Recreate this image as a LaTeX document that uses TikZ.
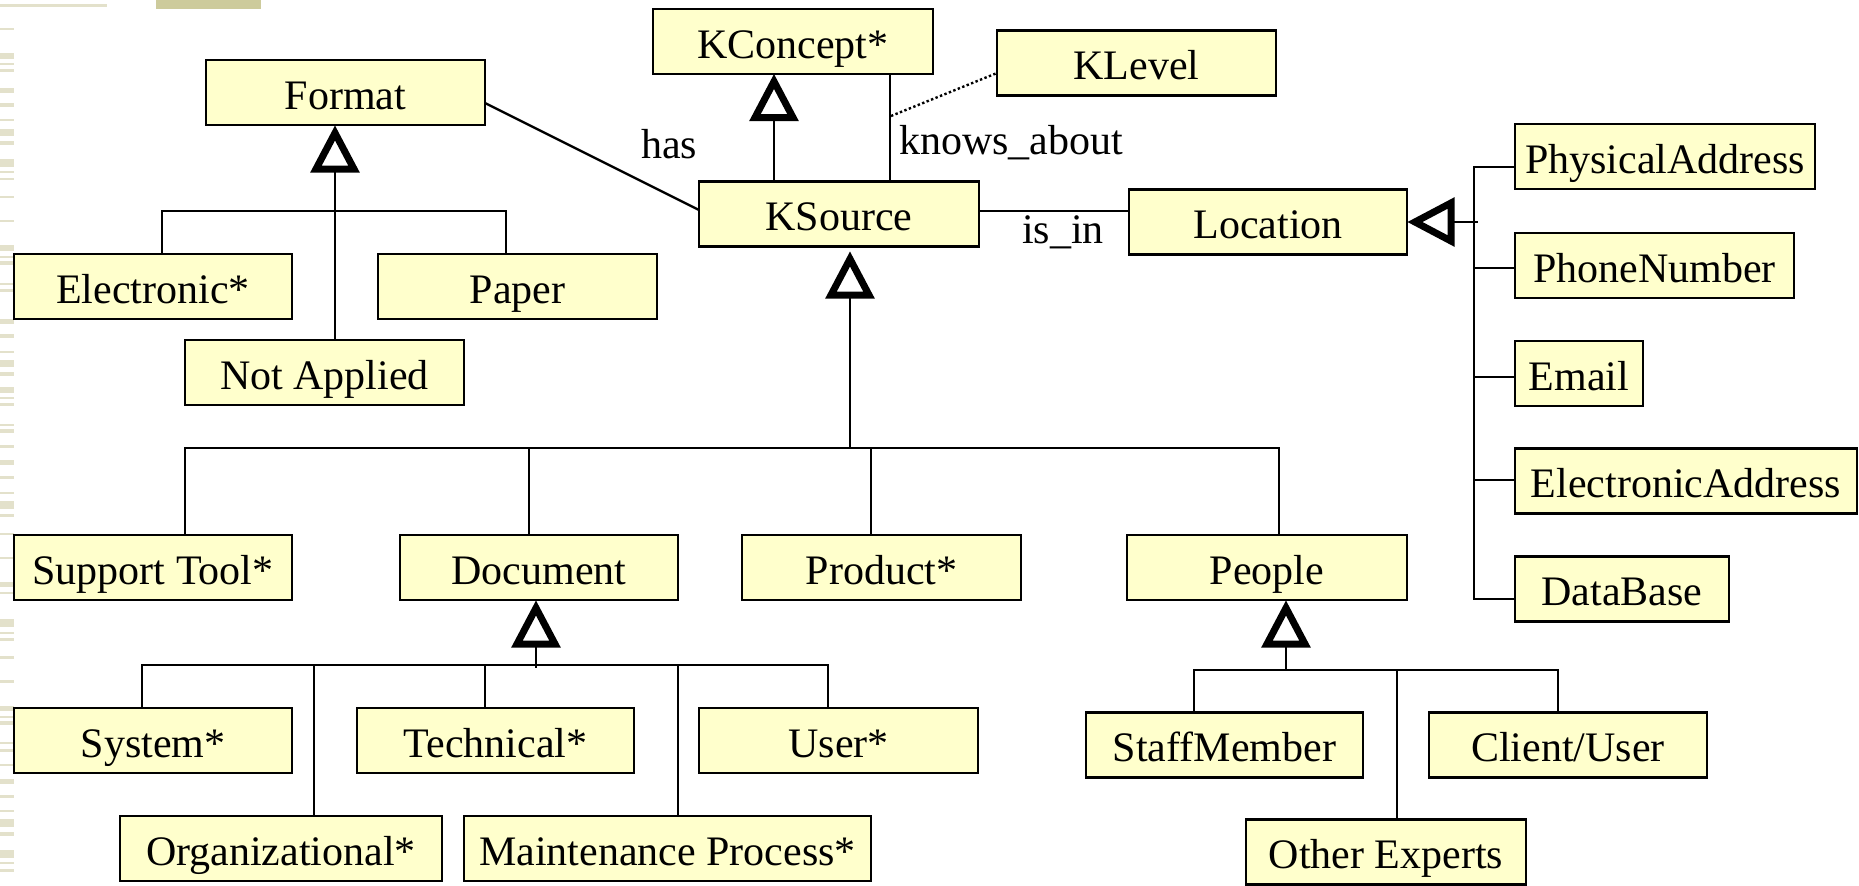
\documentclass[tikz,border=0pt]{standalone}
\usepackage{fontspec}
\setmainfont{Liberation Serif}
\usetikzlibrary{calc}
\definecolor{boxfill}{HTML}{FFFFCC}
\definecolor{stripe}{HTML}{E3E1CB}
\definecolor{topbar}{HTML}{CDCB9C}
\begin{document}
\begin{tikzpicture}[x=0.5pt,y=-0.5pt,
  cls/.style={draw, line width=1.4pt, fill=boxfill, inner sep=0pt, outer sep=0pt,
    minimum height=32.5pt, text height=16.5pt, text depth=0pt,
    font=\fontsize{21}{25}\selectfont},
  boxw/.style={minimum width=#1*0.5pt},
  lbl/.style={inner sep=0pt, outer sep=0pt, font=\fontsize{21}{25}\selectfont, anchor=base west},
  link/.style={line width=1.4pt},
  assoc/.style={line width=1.2pt},
  dotline/.style={line width=1.2pt, dash pattern=on 1.2pt off 1.2pt},
  gentri/.pic={\draw[line width=3.5pt, fill=white, line join=miter, miter limit=4]
    (0,8) -- (-19,44) -- (19,44) -- cycle;}
]
\useasboundingbox (0,0) rectangle (1859,885);
% slide decorations
\fill[topbar] (156,0) rectangle (261,9);
\fill[stripe] (0,4) rectangle (107,6.5);
\foreach \a/\b in {28/30, 53/59, 63/64.5, 69/72, 88/93, 103/107, 119/121, 129/136,
  141/145, 159/167, 171/173, 178/180, 196/198, 220/222, 245/251, 256/258, 261/265,
  283/284.5, 289/292, 319/324, 334/338, 351/352.5, 360/367, 372/376, 387/393,
  397/399, 403/406, 424/426, 429/433, 445/448, 460/465, 476/479, 492/494, 501/509,
  514/517, 533/535, 557/559, 582/587, 592/594, 619/627, 632/634, 638/641, 656/659,
  680/683, 706/711, 716/718, 721/725, 742/744, 749/752, 764/766, 779/784, 795/798,
  810/812, 819/827, 832/836, 850/858, 862/864, 869/872}
  \fill[stripe] (0,\a) rectangle (14,\b);

% classes
\node[cls,boxw=279] (Format) at (345.5,92.5) {Format};
\node[cls,boxw=280] (KConcept) at (793,41.5) {KConcept*};
\node[cls,boxw=279] (KLevel) at (1136.5,63) {KLevel};
\node[cls,boxw=280] (KSource) at (839,214) {KSource};
\node[cls,boxw=278] (Location) at (1268,222) {Location};
\node[cls,boxw=300] (Phys) at (1665,156.5) {PhysicalAddress};
\node[cls,boxw=279] (Phone) at (1654.5,265.5) {PhoneNumber};
\node[cls,boxw=128] (Email) at (1579,373.5) {Email};
\node[cls,boxw=342] (EAddr) at (1686,481) {ElectronicAddress};
\node[cls,boxw=214] (DB) at (1622,589) {DataBase};
\node[cls,boxw=278] (Electronic) at (153,286.5) {Electronic*};
\node[cls,boxw=279] (Paper) at (517.5,286.5) {Paper};
\node[cls,boxw=279] (NotApplied) at (324.5,372.5) {Not Applied};
\node[cls,boxw=278] (Support) at (153,567.5) {Support Tool*};
\node[cls,boxw=278] (Document) at (539,567.5) {Document};
\node[cls,boxw=279] (Product) at (881.5,567.5) {Product*};
\node[cls,boxw=280] (People) at (1267,567.5) {People};
\node[cls,boxw=278] (System) at (153,740.5) {System*};
\node[cls,boxw=277] (Technical) at (495.5,740.5) {Technical*};
\node[cls,boxw=279] (User) at (838.5,740.5) {User*};
\node[cls,boxw=322] (Org) at (281,848.5) {Organizational*};
\node[cls,boxw=407] (Maint) at (667.5,848.5) {Maintenance Process*};
\node[cls,boxw=277] (Staff) at (1224.5,745) {StaffMember};
\node[cls,boxw=278] (Client) at (1568,745) {Client/User};
\node[cls,boxw=280] (Other) at (1386,852) {Other Experts};

% labels
\node[lbl] (hasLbl) at (641,158) {has};
\node[lbl] (knowsLbl) at (899,154) {knows\_about};
\node[lbl] (isinLbl) at (1022,243) {is\_in};

% triangle apex points
\coordinate (tF) at (335,125);
\coordinate (tK) at (774,73.5);
\coordinate (tS) at (850,251);
\coordinate (tD) at (536,600);
\coordinate (tP) at (1286,600);
\coordinate (tL) at (1407,222);

% Format hierarchy
\coordinate (fE) at (162,211);
\coordinate (fP) at (506,211);
\draw[link] ($(tF)+(0,44)$) -- (tF |- NotApplied.north);
\draw[link] (Electronic.north -| fE) -- (fE) -- (fP) -- (Paper.north -| fP);

% KConcept / KLevel
\draw[link] ($(tK)+(0,44)$) -- (tK |- KSource.north);
\coordinate (kA) at (890,0);
\draw[link] (kA |- KConcept.south) -- (kA |- KSource.north);
\coordinate (kDot) at (891,116);
\draw[dotline] (kDot) -- ($(KLevel.west)+(0,10)$);

% associations
\draw[assoc] ($(Format.east)+(0,10.5)$) -- ($(KSource.west)+(0,-4)$);
\draw[link] ($(KSource.east)+(0,-3)$) -- ($(Location.west)+(0,-11)$);

% KSource hierarchy
\coordinate (sB1) at (185,448);
\coordinate (sB2) at (529,448);
\coordinate (sB3) at (871,448);
\coordinate (sB4) at (1279,448);
\draw[link] ($(tS)+(0,44)$) -- (tS |- sB1);
\draw[link] (Support.north -| sB1) -- (sB1) -- (sB4) -- (People.north -| sB4);
\draw[link] (sB2) -- (Document.north -| sB2);
\draw[link] (sB3) -- (Product.north -| sB3);

% Document hierarchy
\coordinate (dB1) at (142,665);
\coordinate (dB2) at (314,665);
\coordinate (dB3) at (485,665);
\coordinate (dB4) at (678,665);
\coordinate (dB5) at (828,665);
\draw[link] ($(tD)+(0,44)$) -- ($(tD)+(0,68)$);
\draw[link] (System.north -| dB1) -- (dB1) -- (dB5) -- (User.north -| dB5);
\draw[link] (dB2) -- (Org.north -| dB2);
\draw[link] (dB3) -- (Technical.north -| dB3);
\draw[link] (dB4) -- (Maint.north -| dB4);

% People hierarchy
\coordinate (pB1) at (1194,670);
\coordinate (pB2) at (1397,670);
\coordinate (pB3) at (1558,670);
\draw[link] ($(tP)+(0,44)$) -- (tP |- pB1);
\draw[link] (Staff.north -| pB1) -- (pB1) -- (pB3) -- (Client.north -| pB3);
\draw[link] (pB2) -- (Other.north -| pB2);

% Location hierarchy
\coordinate (lT1) at (1474,167);
\coordinate (lT2) at (1474,268);
\coordinate (lT3) at (1474,377);
\coordinate (lT4) at (1474,480);
\coordinate (lT5) at (1474,599);
\draw[link] ($(tL)+(44,0)$) -- ($(tL)+(71,0)$);
\draw[link] (Phys.west |- lT1) -- (lT1) -- (lT5) -- (DB.west |- lT5);
\draw[link] (lT2) -- (Phone.west |- lT2);
\draw[link] (lT3) -- (Email.west |- lT3);
\draw[link] (lT4) -- (EAddr.west |- lT4);

% generalization triangles
\pic at (tF) {gentri};
\pic at (tK) {gentri};
\pic at (tS) {gentri};
\pic at (tD) {gentri};
\pic at (tP) {gentri};
\pic[rotate=90] at (tL) {gentri};
\end{tikzpicture}
\end{document}
